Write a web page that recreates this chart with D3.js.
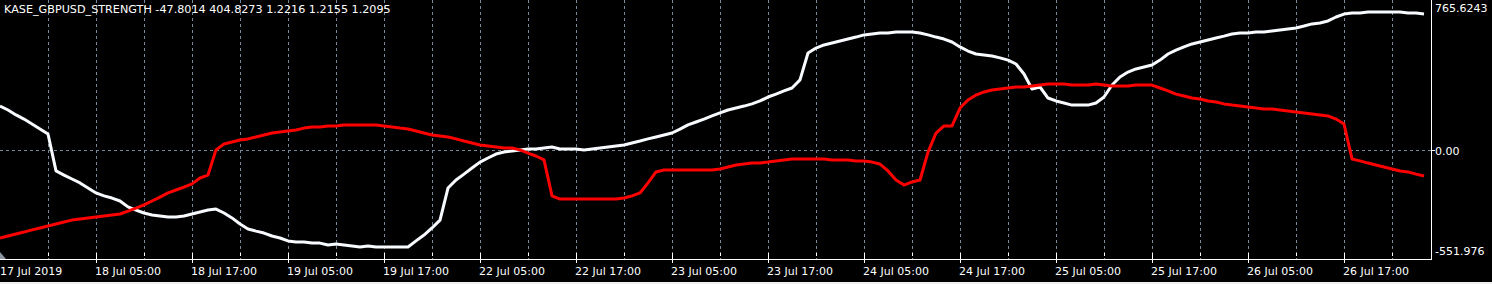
<!DOCTYPE html>
<html>
<head>
<meta charset="utf-8">
<script src="https://cdn.jsdelivr.net/npm/d3@7"></script>
<style>
  html, body { margin: 0; padding: 0; background: #000; overflow: hidden; }
  text { font-family: "DejaVu Sans", sans-serif; font-size: 11px; fill: #fff; }
</style>
</head>
<body>
<div id="svg"></div>
<script>
// hourly bars, 17 Jul 17:00 .. 26 Jul (weekend skipped)
const title = "KASE_GBPUSD_STRENGTH -47.8014 404.8273 1.2216 1.2155 1.2095";
const timeLabels = ["17 Jul 2019", "18 Jul 05:00", "18 Jul 17:00", "19 Jul 05:00", "19 Jul 17:00",
    "22 Jul 05:00", "22 Jul 17:00", "23 Jul 05:00", "23 Jul 17:00", "24 Jul 05:00",
    "24 Jul 17:00", "25 Jul 05:00", "25 Jul 17:00", "26 Jul 05:00", "26 Jul 17:00"];
const yMax = 765.6243, yMin = -551.976;
const yTicks = [765.6243, 0, -551.976];

const white = [226, 206, 181, 160, 135, 109, 84, -104, -125, -145,
    -165, -191, -216, -231, -242, -257, -287, -303, -318, -328,
    -333, -338, -338, -333, -323, -313, -303, -298, -318, -343,
    -374, -399, -410, -420, -435, -445, -460, -465, -465, -471,
    -471, -481, -476, -481, -486, -491, -486, -491, -491, -491,
    -491, -491, -460, -430, -394, -354, -191, -150, -120, -89,
    -59, -38, -18, -8, -3, 3, 8, 8, 13, 18,
    8, 8, 8, 3, 8, 13, 18, 23, 28, 38,
    48, 59, 69, 79, 89, 109, 130, 145, 160, 176,
    191, 206, 216, 226, 237, 252, 272, 287, 303, 318,
    359, 496, 521, 537, 547, 557, 567, 577, 588, 593,
    598, 598, 603, 603, 603, 598, 588, 577, 567, 552,
    527, 506, 491, 486, 481, 471, 460, 440, 389, 313,
    323, 267, 252, 242, 231, 231, 231, 242, 272, 333,
    374, 399, 415, 425, 435, 460, 491, 511, 527, 542,
    552, 562, 572, 582, 593, 598, 598, 603, 603, 608,
    613, 618, 623, 633, 644, 649, 659, 679, 694, 699,
    699, 705, 705, 705, 705, 705, 699, 699, 694];

const red = [-445, -435, -425, -415, -404, -394, -384, -374, -364, -354,
    -348, -343, -338, -333, -328, -323, -308, -293, -277, -257,
    -237, -216, -201, -186, -170, -140, -125, 3, 33, 43,
    53, 59, 69, 79, 89, 94, 99, 104, 114, 120,
    120, 125, 125, 130, 130, 130, 130, 130, 125, 120,
    114, 109, 99, 89, 79, 74, 69, 59, 48, 38,
    28, 23, 18, 13, 13, 3, -13, -28, -48, -231,
    -247, -247, -247, -247, -247, -247, -247, -247, -242, -231,
    -216, -165, -109, -99, -99, -99, -99, -99, -99, -99,
    -94, -84, -74, -69, -64, -64, -59, -53, -48, -43,
    -43, -43, -43, -43, -48, -48, -48, -53, -53, -59,
    -69, -104, -150, -176, -160, -150, -8, 89, 125, 125,
    216, 257, 282, 298, 308, 313, 318, 323, 323, 328,
    333, 338, 338, 338, 333, 333, 333, 338, 333, 328,
    328, 328, 333, 333, 333, 318, 303, 287, 277, 267,
    262, 252, 247, 237, 231, 226, 221, 216, 211, 211,
    206, 201, 196, 191, 186, 181, 176, 160, 135, -43,
    -53, -64, -74, -84, -94, -104, -109, -120, -130];

var width = 1492,
    height = 284,
    plotW = 1432,
    plotH = 259;

var svg = d3.select("#svg")
    .append("svg")
    .attr("width", width)
    .attr("height", height)
    .style("display", "block")
    .style("background", "#000");

var xScale = d3.scaleLinear()
    .domain([0, 179])
    .range([0, plotW]);

var yScale = d3.scaleLinear()
    .domain([yMin, yMax])
    .range([plotH, 0]);

var gridColor = "#778899";

// vertical grid every 6 bars
var gridIdx = d3.range(6, 179, 6);
svg.selectAll(".vgrid")
    .data(gridIdx)
    .enter()
    .append("line")
    .attr("x1", d => Math.round(xScale(d)) + 0.5)
    .attr("x2", d => Math.round(xScale(d)) + 0.5)
    .attr("y1", 0)
    .attr("y2", plotH)
    .attr("stroke", gridColor)
    .attr("stroke-dasharray", "3,3");

// zero line
svg.append("line")
    .attr("x1", 0)
    .attr("x2", plotW)
    .attr("y1", Math.floor(yScale(0)) + 0.5)
    .attr("y2", Math.floor(yScale(0)) + 0.5)
    .attr("stroke", gridColor)
    .attr("stroke-dasharray", "3,3");

var line = d3.line()
    .x((d, i) => xScale(i))
    .y(d => yScale(d));

svg.append("path")
    .datum(white)
    .attr("d", line)
    .attr("fill", "none")
    .attr("stroke", "#f8fbff")
    .attr("stroke-width", 3)
    .attr("stroke-linejoin", "round");

svg.append("path")
    .datum(red)
    .attr("d", line)
    .attr("fill", "none")
    .attr("stroke", "#ff0000")
    .attr("stroke-width", 3)
    .attr("stroke-linejoin", "round");

// frame
svg.append("line")
    .attr("x1", 0).attr("x2", plotW)
    .attr("y1", plotH + 0.5).attr("y2", plotH + 0.5)
    .attr("stroke", "#fff");
svg.append("line")
    .attr("x1", plotW - 0.5).attr("x2", plotW - 0.5)
    .attr("y1", 0).attr("y2", plotH + 1)
    .attr("stroke", "#fff");

// time axis ticks
svg.selectAll(".tick6")
    .data(gridIdx)
    .enter()
    .append("line")
    .attr("x1", d => Math.round(xScale(d)) + 0.5)
    .attr("x2", d => Math.round(xScale(d)) + 0.5)
    .attr("y1", plotH - 6)
    .attr("y2", d => d % 12 == 0 ? plotH + 4 : plotH - 3)
    .attr("stroke", "#fff");

svg.selectAll(".tlabel")
    .data(timeLabels)
    .enter()
    .append("text")
    .attr("x", (d, i) => Math.max(0, Math.round(xScale(i * 12)) - 1))
    .attr("y", 275)
    .text(d => d);

// price axis
svg.append("line")
    .attr("x1", plotW).attr("x2", plotW + 3)
    .attr("y1", Math.floor(yScale(0)) + 0.5).attr("y2", Math.floor(yScale(0)) + 0.5)
    .attr("stroke", "#fff");

svg.selectAll(".ylabel")
    .data(yTicks)
    .enter()
    .append("text")
    .attr("x", 1435)
    .attr("y", d => d == 0 ? yScale(d) + 4.5 : (d > 0 ? 12 : 255))
    .text(d => d == 0 ? "0.00" : String(d));

svg.append("text")
    .attr("x", 4)
    .attr("y", 13)
    .style("font-size", "11.2px")
    .text(title);

// shift marker and bottom edge
svg.append("path")
    .attr("d", "M0,252 L6,259 L0,259 Z")
    .attr("fill", "#8c96a0");
svg.append("rect")
    .attr("x", 0).attr("y", 282)
    .attr("width", width).attr("height", 2)
    .attr("fill", "#f0f0f0");
</script>
</body>
</html>
